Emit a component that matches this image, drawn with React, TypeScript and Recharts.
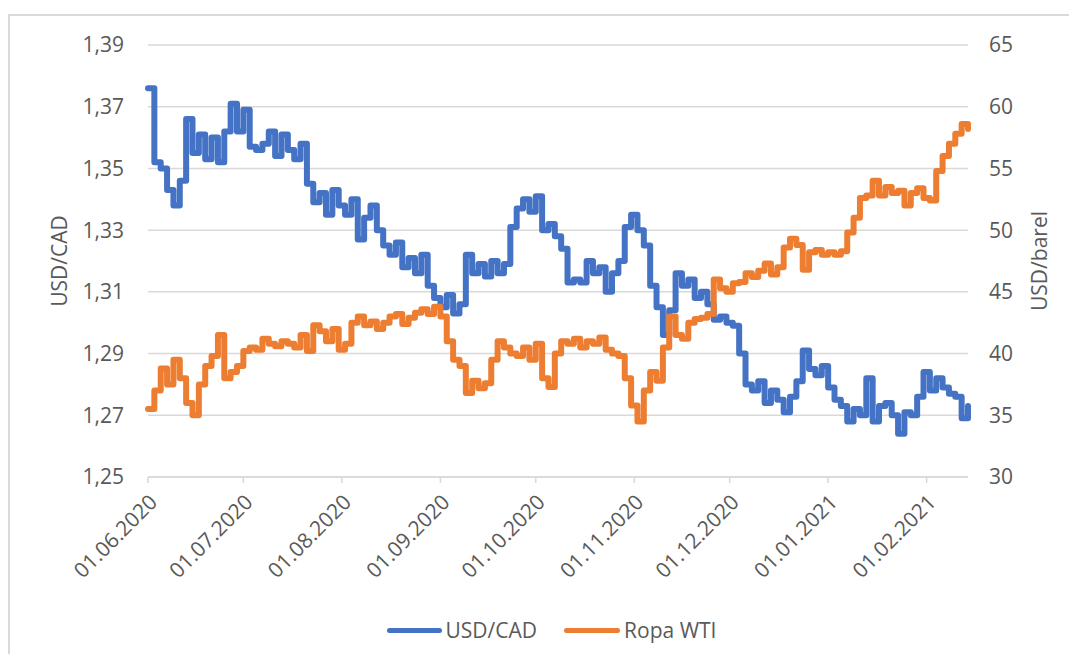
import React from 'react';
import {LineChart, Line, XAxis, YAxis, CartesianGrid, Legend} from 'recharts';

// one reading every 2 calendar days starting 01.06.2020
const STEP_DAYS = 2;

const usdCad = [
    1.376, 1.352, 1.350, 1.343, 1.338, 1.346, 1.366, 1.355, 1.361, 1.353,
    1.360, 1.352, 1.362, 1.371, 1.362, 1.369, 1.357, 1.356, 1.358, 1.362,
    1.354, 1.361, 1.356, 1.353, 1.358, 1.345, 1.339, 1.342, 1.335, 1.343,
    1.338, 1.335, 1.340, 1.327, 1.334, 1.338, 1.330, 1.325, 1.322, 1.326,
    1.318, 1.321, 1.316, 1.322, 1.312, 1.308, 1.305, 1.309, 1.303, 1.306,
    1.322, 1.316, 1.319, 1.315, 1.320, 1.316, 1.319, 1.331, 1.337, 1.340,
    1.336, 1.341, 1.330, 1.332, 1.328, 1.324, 1.313, 1.314, 1.313, 1.320,
    1.316, 1.318, 1.310, 1.316, 1.320, 1.331, 1.335, 1.330, 1.325, 1.312,
    1.305, 1.296, 1.304, 1.316, 1.312, 1.314, 1.308, 1.310, 1.306, 1.301,
    1.302, 1.300, 1.299, 1.290, 1.280, 1.278, 1.281, 1.274, 1.278, 1.275,
    1.271, 1.276, 1.281, 1.291, 1.285, 1.283, 1.286, 1.279, 1.275, 1.273,
    1.268, 1.272, 1.270, 1.282, 1.268, 1.273, 1.274, 1.270, 1.264, 1.271,
    1.270, 1.276, 1.284, 1.278, 1.282, 1.279, 1.277, 1.276, 1.269, 1.273,
];

const wti = [
    35.5, 37.0, 38.8, 37.5, 39.5, 38.0, 36.0, 35.0, 37.5, 39.0,
    39.8, 41.5, 38.0, 38.5, 39.0, 40.2, 40.5, 40.3, 41.2, 40.8,
    40.6, 41.0, 40.8, 40.5, 41.5, 40.2, 42.3, 41.8, 41.0, 42.0,
    40.3, 40.8, 42.5, 43.0, 42.3, 42.6, 42.0, 42.5, 43.0, 43.2,
    42.4, 42.9, 43.3, 43.6, 43.2, 43.8, 43.0, 41.0, 39.5, 39.0,
    36.8, 37.8, 37.2, 37.6, 39.5, 41.0, 40.5, 40.0, 39.8, 40.5,
    39.5, 40.8, 38.0, 37.3, 40.0, 41.0, 40.8, 41.2, 40.5, 41.0,
    40.8, 41.3, 40.3, 40.0, 39.8, 38.0, 35.8, 34.5, 37.0, 38.5,
    37.8, 40.5, 43.0, 41.5, 41.2, 42.5, 42.8, 42.9, 43.2, 46.0,
    45.3, 45.0, 45.7, 45.8, 46.5, 46.2, 46.7, 47.3, 46.4, 47.0,
    48.6, 49.3, 48.8, 46.8, 48.2, 48.4, 48.0, 48.2, 48.0, 48.3,
    49.8, 51.0, 52.6, 52.8, 54.0, 52.8, 53.5, 53.0, 53.2, 52.0,
    53.0, 53.4, 52.6, 52.4, 54.8, 56.0, 57.0, 57.8, 58.6, 58.2,
];

const monthTicks = [0, 30, 61, 92, 122, 153, 183, 214, 245];
const monthLabels = [
    '01.06.2020', '01.07.2020', '01.08.2020', '01.09.2020', '01.10.2020',
    '01.11.2020', '01.12.2020', '01.01.2021', '01.02.2021',
];

const leftTicks = [1.25, 1.27, 1.29, 1.31, 1.33, 1.35, 1.37, 1.39];
const rightTicks = [30, 35, 40, 45, 50, 55, 60, 65];

const rows = usdCad.map((v, i) => ({day: i * STEP_DAYS, usd: v, wti: wti[i]}));

const FONT = '"Open Sans", sans-serif';
const TXT = '#595959';
const GRID = '#d9d9d9';

const LegendBox = () => (
    <div style={{
        height: 30, display: 'flex', justifyContent: 'center', alignItems: 'center',
        fontFamily: FONT, fontSize: 21, color: TXT, paddingLeft: 26,
    }}>
        <span style={{width: 55, height: 5, borderRadius: 3, background: '#4472C4', marginRight: 4}}/>
        <span style={{marginRight: 27}}>USD/CAD</span>
        <span style={{width: 56, height: 5, borderRadius: 3, background: '#ED7D31', marginRight: 4}}/>
        <span>Ropa WTI</span>
    </div>
);

const App = () => {
    const labelOf = (d: number) => monthLabels[monthTicks.indexOf(d)] ?? '';

    return (
        <div style={{position: 'relative', width: 1061, height: 646}}>
            <div style={{
                position: 'absolute', left: 0, top: 6, width: 1067, height: 640,
                borderTop: `2px solid ${GRID}`, borderLeft: `2px solid ${GRID}`,
            }}/>
            <div style={{position: 'absolute', left: 0, top: 0}}>
                <LineChart width={1061} height={646} data={rows}
                           margin={{top: 37, right: 0, left: 0, bottom: 37}}>
                    <CartesianGrid yAxisId="left" vertical={false} stroke={GRID} strokeWidth={1.5}/>
                    <XAxis dataKey="day" type="number" domain={[0, 258]} ticks={monthTicks}
                           tickFormatter={labelOf} height={110} interval={0}
                           stroke={GRID} strokeWidth={1.5} tickSize={6} tickMargin={10}
                           angle={-45} textAnchor="end"
                           tick={{fill: TXT, fontSize: 21, fontFamily: FONT}}/>
                    <YAxis yAxisId="left" domain={[1.25, 1.39]} ticks={leftTicks} width={140}
                           tickFormatter={(v: number) => v.toFixed(2).replace('.', ',')}
                           axisLine={false} tickLine={false} tickSize={0} tickMargin={24}
                           tick={{fill: TXT, fontSize: 21, fontFamily: FONT}}
                           label={{
                               value: 'USD/CAD', angle: -90, position: 'insideLeft', offset: 52,
                               style: {textAnchor: 'middle', fill: TXT, fontSize: 21, fontFamily: FONT},
                           }}/>
                    <YAxis yAxisId="right" orientation="right" domain={[30, 65]} ticks={rightTicks}
                           width={101} axisLine={false} tickLine={false} tickSize={0} tickMargin={21}
                           tick={{fill: TXT, fontSize: 21, fontFamily: FONT}}
                           label={{
                               value: 'USD/barel', angle: -90, position: 'insideRight', offset: 29,
                               style: {textAnchor: 'middle', fill: TXT, fontSize: 21, fontFamily: FONT},
                           }}/>
                    <Legend verticalAlign="bottom" content={<LegendBox/>}
                            wrapperStyle={{top: 607, bottom: 'auto'}}/>
                    <Line yAxisId="left" type="stepAfter" dataKey="usd" name="USD/CAD" stroke="#4472C4"
                          strokeWidth={6} dot={false} strokeLinejoin="round" strokeLinecap="round"
                          isAnimationActive={false}/>
                    <Line yAxisId="right" type="stepAfter" dataKey="wti" name="Ropa WTI" stroke="#ED7D31"
                          strokeWidth={6} dot={false} strokeLinejoin="round" strokeLinecap="round"
                          isAnimationActive={false}/>
                </LineChart>
            </div>
        </div>
    );
};

export default App;
